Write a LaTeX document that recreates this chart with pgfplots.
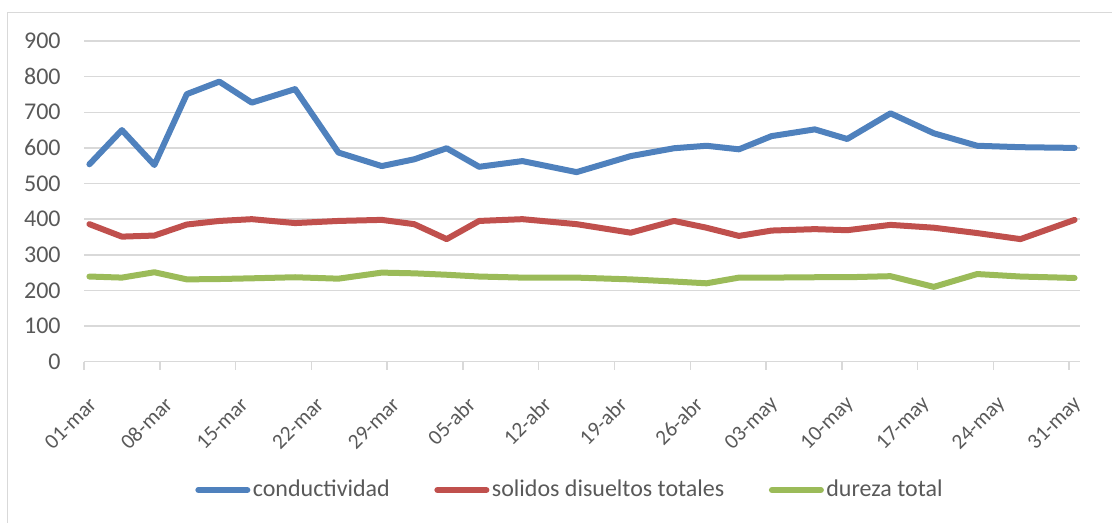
\documentclass[border=0pt]{standalone}
\usepackage{fontspec}
\setmainfont{Carlito}
\usepackage{pgfplots}
\pgfplotsset{compat=1.18}
\definecolor{cblue}{HTML}{4F81BD}
\definecolor{cred}{HTML}{C0504D}
\definecolor{cgreen}{HTML}{9BBB59}
\definecolor{gridc}{HTML}{D9D9D9}
\definecolor{txt}{HTML}{595959}
\begin{document}
\begin{tikzpicture}
\path[use as bounding box] (0,0) rectangle (556pt,261.5pt);
\draw[gridc, line width=0.75pt] (3.75pt,0) -- (3.75pt,255.15pt) -- (556pt,255.15pt);
\begin{axis}[
  at={(42pt,80.65pt)}, anchor=south west,
  scale only axis, width=498pt, height=160.35pt,
  xmin=0, xmax=92, ymin=0, ymax=900,
  clip=false,
  axis lines*=left,
  axis line style={-},
  x axis line style={gridc, line width=0.75pt},
  y axis line style={draw=none},
  ytick={0,100,...,900},
  ymajorgrids,
  grid style={gridc, line width=0.75pt},
  xtick={0,7,...,91},
  xticklabels={01-mar,08-mar,15-mar,22-mar,29-mar,05-abr,12-abr,19-abr,26-abr,03-may,10-may,17-may,24-may,31-may},
  tick align=outside,
  major tick length=4pt,
  ytick style={draw=none},
  xtick style={gridc, line width=0.75pt},
  ticklabel style={font=\fontsize{12}{14}\selectfont, text=txt},
  /pgf/number format/assume math mode=true,
  xticklabel style={font=\fontsize{10.7}{13}\selectfont, xshift=4.5pt, yshift=-15.5pt, rotate=45, anchor=east, inner sep=0pt},
  yticklabel style={inner sep=0pt, xshift=-7.5pt},
  legend columns=3,
  legend style={at={(0.1114,-0.40)}, anchor=west, draw=none, fill=none,
    inner sep=0pt, font=\fontsize{12}{14}\selectfont, text=txt,
    nodes={inner sep=1.25pt},
    /tikz/every even column/.append style={column sep=21pt}},
  legend image code/.code={\draw[#1, line cap=round] (1.5pt,0pt) -- (26pt,0pt);},
  every axis plot/.append style={line width=3pt, line join=round, line cap=round},
]
\addplot[cblue] coordinates {
(0.5,554) (3.5,650) (6.5,552) (9.5,751) (12.5,786) (15.5,727) (19.5,765) (23.5,587)
(27.5,549) (30.5,568) (33.5,599) (36.5,547) (40.5,563) (45.5,532) (50.5,577) (54.5,599)
(57.5,606) (60.5,596) (63.5,633) (67.5,652) (70.5,625) (74.5,697) (78.5,641) (82.5,606)
(86.5,602) (91.5,600)};
\addlegendentry{conductividad}
\addplot[cred] coordinates {
(0.5,386) (3.5,351) (6.5,354) (9.5,385) (12.5,395) (15.5,400) (19.5,389) (23.5,395)
(27.5,398) (30.5,386) (33.5,344) (36.5,395) (40.5,400) (45.5,386) (50.5,362) (54.5,395)
(57.5,376) (60.5,353) (63.5,368) (67.5,372) (70.5,369) (74.5,384) (78.5,376) (82.5,361)
(86.5,344) (91.5,398)};
\addlegendentry{solidos disueltos totales}
\addplot[cgreen] coordinates {
(0.5,239) (3.5,236) (6.5,251) (9.5,231) (12.5,232) (15.5,234) (19.5,237) (23.5,233)
(27.5,250) (30.5,248) (33.5,244) (36.5,239) (40.5,236) (45.5,236) (50.5,231) (54.5,225)
(57.5,220) (60.5,236) (63.5,236) (67.5,237) (70.5,237) (74.5,240) (78.5,210) (82.5,246)
(86.5,239) (91.5,235)};
\addlegendentry{dureza total}
\end{axis}
\end{tikzpicture}
\end{document}
